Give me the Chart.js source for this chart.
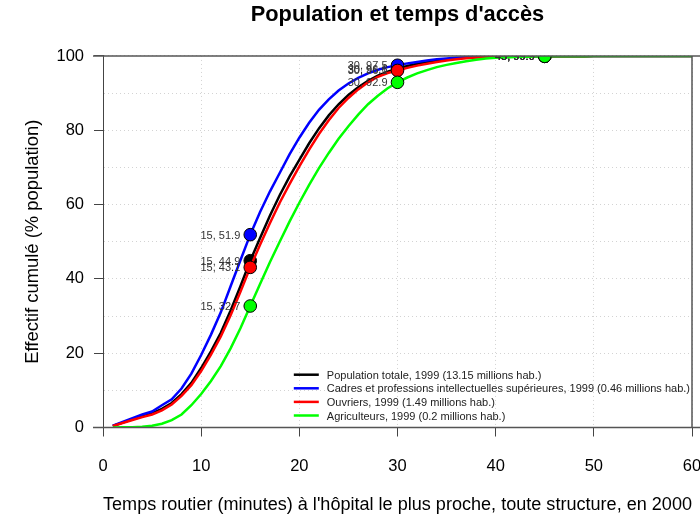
<!DOCTYPE html>
<html>
<head>
<meta charset="utf-8">
<script src="https://cdn.jsdelivr.net/npm/chart.js@4.4.1/dist/chart.umd.min.js"></script>
<style>
  html, body { margin: 0; padding: 0; background: #fff; overflow: hidden; }
</style>
</head>
<body>
<canvas id="myChart" width="700" height="518"></canvas>
<script>
// donnees : temps d'acces (minutes) et effectif cumule (%)
const minutes = [1, 2, 3, 4, 5, 6, 7, 8, 9, 10, 11, 12, 13, 14, 15, 16, 17, 18, 19, 20,
  21, 22, 23, 24, 25, 26, 27, 28, 29, 30, 31, 32, 33, 34, 35, 36, 37, 38, 39, 40,
  41, 42, 43, 44, 45, 46, 47, 48, 49, 50, 51, 52, 53, 54, 55, 56, 57, 58, 59, 60];

const popTotale = [0.4, 1.3, 2.2, 3.0, 3.8, 5.0, 6.6, 9.0, 12.0, 16.0, 20.5, 25.5, 31.5, 38.0, 44.9,
  51.0, 57.0, 62.5, 67.5, 72.0, 76.5, 80.5, 84.0, 87.0, 89.5, 91.6, 93.3, 94.7, 95.8, 96.6,
  97.3, 97.9, 98.4, 98.8, 99.1, 99.4, 99.6, 99.7, 99.8, 99.85, 99.87, 99.88, 99.89, 99.9, 99.9,
  99.92, 99.93, 99.94, 99.95, 99.96, 99.96, 99.97, 99.97, 99.98, 99.98, 99.99, 99.99, 99.99, 100, 100];

const cadres = [0.5, 1.5, 2.5, 3.5, 4.3, 6.0, 7.6, 10.5, 14.5, 19.5, 25.0, 31.0, 38.0, 45.0, 51.9,
  58.0, 63.5, 68.5, 73.5, 78.0, 82.0, 85.5, 88.3, 90.7, 92.6, 94.1, 95.3, 96.3, 97.0, 97.5,
  98.0, 98.4, 98.8, 99.1, 99.3, 99.5, 99.6, 99.7, 99.8, 99.85, 99.87, 99.88, 99.89, 99.9, 99.9,
  99.92, 99.93, 99.94, 99.95, 99.96, 99.96, 99.97, 99.97, 99.98, 99.98, 99.99, 99.99, 99.99, 100, 100];

const ouvriers = [0.4, 1.2, 2.0, 2.8, 3.5, 4.6, 6.2, 8.5, 11.4, 15.2, 19.6, 24.5, 30.2, 36.5, 43.1,
  49.2, 55.0, 60.5, 65.5, 70.3, 74.8, 79.0, 82.7, 86.0, 88.7, 91.0, 92.9, 94.4, 95.4, 96.1,
  96.8, 97.4, 97.9, 98.4, 98.8, 99.1, 99.4, 99.6, 99.7, 99.8, 99.85, 99.87, 99.88, 99.89, 99.9,
  99.92, 99.93, 99.94, 99.95, 99.96, 99.96, 99.97, 99.97, 99.98, 99.98, 99.99, 99.99, 99.99, 100, 100];

const agriculteurs = [0.0, 0.05, 0.1, 0.2, 0.5, 1.0, 2.0, 3.5, 6.0, 9.0, 12.5, 16.5, 21.3, 26.7, 32.7,
  38.6, 44.5, 50.0, 55.4, 60.5, 65.3, 69.8, 73.9, 77.7, 81.1, 84.2, 87.0, 89.3, 91.3, 92.9,
  94.2, 95.3, 96.2, 97.0, 97.6, 98.1, 98.6, 99.0, 99.3, 99.5, 99.6, 99.7, 99.8, 99.85, 99.9,
  99.92, 99.93, 99.94, 99.95, 99.96, 99.96, 99.97, 99.97, 99.98, 99.98, 99.99, 99.99, 99.99, 100, 100];

const seriesLabels = [
  'Population totale, 1999 (13.15 millions hab.)',
  'Cadres et professions intellectuelles supérieures, 1999 (0.46 millions hab.)',
  'Ouvriers, 1999 (1.49 millions hab.)',
  'Agriculteurs, 1999 (0.2 millions hab.)'
];

// minutes marquees d'un point
const marques = [15, 30, 45];

const xTicks = [0, 10, 20, 30, 40, 50, 60];
const yTicks = [0, 20, 40, 60, 80, 100];

const FONT = "'Liberation Sans', Arial, Helvetica, sans-serif";

function pts(vals) {
  return minutes.map((m, i) => ({ x: m, y: vals[i] }));
}

function serie(label, vals, color, order) {
  return {
    label: label,
    data: pts(vals),
    borderColor: color,
    backgroundColor: color,
    borderWidth: 2.5,
    tension: 0,
    order: order,
    pointRadius: ctx => (ctx.raw && marques.includes(ctx.raw.x)) ? 6.3 : 0,
    pointBackgroundColor: color,
    pointBorderColor: '#000',
    pointBorderWidth: 1
  };
}

const data = {
  datasets: [
    serie(seriesLabels[0], popTotale, '#000000', 3),
    serie(seriesLabels[1], cadres, '#0000ff', 2),
    serie(seriesLabels[2], ouvriers, '#ff0000', 1),
    serie(seriesLabels[3], agriculteurs, '#00ff00', 0)
  ]
};

// etiquettes "x, y" a gauche des points
const etiquettes = {
  id: 'etiquettes',
  afterDatasetsDraw(chart) {
    const { ctx, chartArea, scales } = chart;
    ctx.save();
    ctx.beginPath();
    ctx.rect(chartArea.left, chartArea.top, chartArea.right - chartArea.left, chartArea.bottom - chartArea.top);
    ctx.clip();
    ctx.font = '11px ' + FONT;
    ctx.fillStyle = '#333';
    ctx.textAlign = 'right';
    ctx.textBaseline = 'middle';
    chart.data.datasets.forEach(ds => {
      ds.data.forEach(p => {
        if (!marques.includes(p.x)) return;
        const px = scales.x.getPixelForValue(p.x);
        const py = scales.y.getPixelForValue(p.y);
        ctx.fillText(p.x + ', ' + p.y.toFixed(1), px - 10, py + 1);
      });
    });
    ctx.restore();
  }
};

// legende dans le coin bas droit + cadre
const legendeCadre = {
  id: 'legendeCadre',
  afterDraw(chart) {
    const { ctx, chartArea } = chart;
    ctx.save();
    ctx.font = '11px ' + FONT;
    const dsets = chart.data.datasets;
    let maxW = 0;
    dsets.forEach(ds => { maxW = Math.max(maxW, ctx.measureText(ds.label).width); });
    const textX = chartArea.right - 2 - maxW;
    const lineX1 = textX - 33;
    const lineX2 = textX - 8;
    const step = 13.6;
    const y0 = chartArea.bottom - 12 - step * (dsets.length - 1);
    ctx.textAlign = 'left';
    ctx.textBaseline = 'middle';
    dsets.forEach((ds, i) => {
      const y = y0 + i * step;
      ctx.strokeStyle = ds.borderColor;
      ctx.lineWidth = 2.5;
      ctx.beginPath();
      ctx.moveTo(lineX1, y);
      ctx.lineTo(lineX2, y);
      ctx.stroke();
      ctx.fillStyle = '#222';
      ctx.fillText(ds.label, textX, y + 1);
    });

    // cadre du graphique
    ctx.strokeStyle = '#555';
    ctx.lineWidth = 1.5;
    ctx.beginPath();
    ctx.moveTo(chartArea.left - 10, chartArea.top);
    ctx.lineTo(chart.width, chartArea.top);
    ctx.moveTo(chartArea.left - 10, chartArea.bottom);
    ctx.lineTo(chart.width, chartArea.bottom);
    ctx.moveTo(chartArea.right, chartArea.top);
    ctx.lineTo(chartArea.right, chartArea.bottom);
    ctx.stroke();
    ctx.restore();
  }
};

const config = {
  type: 'line',
  data,
  options: {
    responsive: false,
    animation: false,
    events: [],
    layout: { padding: 0 },
    plugins: {
      legend: { display: false },
      tooltip: { enabled: false },
      title: {
        display: true,
        text: "Population et temps d'accès",
        fullSize: false,
        color: '#000',
        font: { family: FONT, size: 21.8, weight: 'bold' },
        padding: { top: 2, bottom: 27.8 }
      }
    },
    scales: {
      x: {
        type: 'linear',
        min: 0,
        max: 60,
        afterBuildTicks: axis => { axis.ticks = xTicks.map(v => ({ value: v })); },
        afterFit: axis => { axis.paddingLeft = 5; axis.paddingRight = 8; axis.height = 90.5; },
        ticks: {
          color: '#000',
          font: { family: FONT, size: 16.5 },
          padding: 20,
          maxRotation: 0
        },
        grid: {
          color: '#d3d3d3',
          lineWidth: 1,
          tickColor: '#444',
          tickLength: 9,
          tickBorderDash: []
        },
        border: { color: '#444', width: 1, dash: [1, 3] },
        title: {
          display: true,
          text: "Temps routier (minutes) à l'hôpital le plus proche, toute structure, en 2000",
          color: '#000',
          font: { family: FONT, size: 18.7 },
          padding: { top: 0, bottom: 2 }
        }
      },
      y: {
        min: 0,
        max: 100,
        afterFit: axis => { axis.width = 103; },
        ticks: {
          stepSize: 10,
          color: '#000',
          font: { family: FONT, size: 16.5 },
          padding: 10,
          callback: v => yTicks.includes(v) ? String(v) : ''
        },
        grid: {
          color: '#d3d3d3',
          lineWidth: 1,
          tickColor: ctx => (ctx.tick && yTicks.includes(ctx.tick.value)) ? '#444' : 'rgba(0,0,0,0)',
          tickLength: 9,
          tickBorderDash: []
        },
        border: { color: '#444', width: 1, dash: [1, 3] },
        title: {
          display: true,
          text: 'Effectif cumulé (% population)',
          color: '#000',
          font: { family: FONT, size: 18.4 },
          padding: { top: 22, bottom: 8 }
        }
      }
    }
  },
  plugins: [etiquettes, legendeCadre]
};

const myChart = new Chart(document.getElementById('myChart'), config);
</script>
</body>
</html>
